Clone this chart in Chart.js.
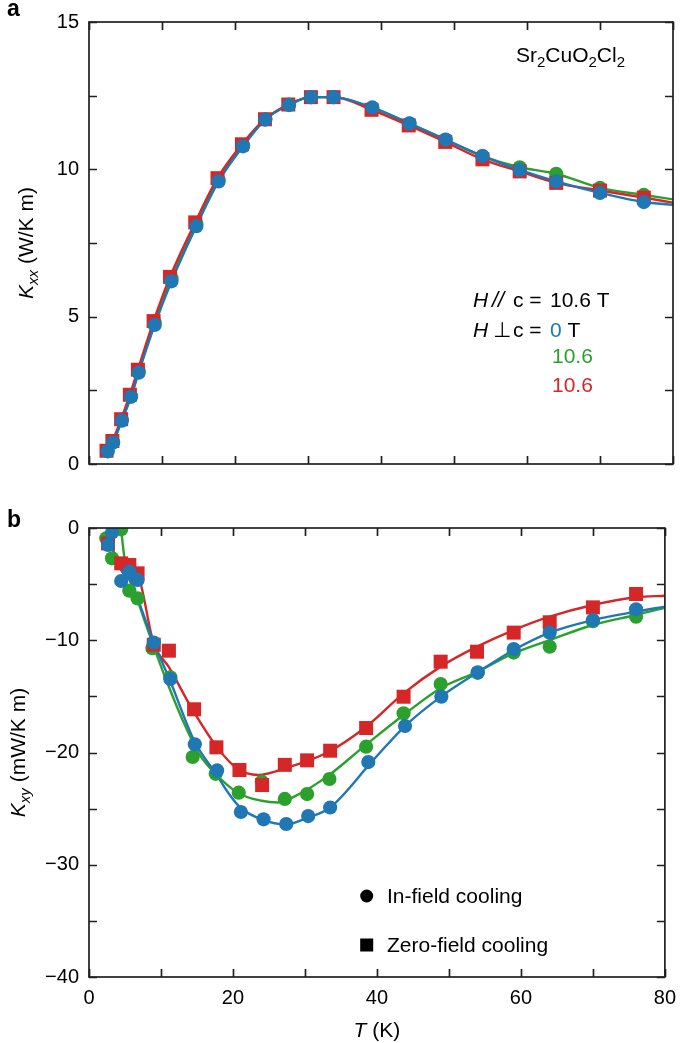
<!DOCTYPE html>
<html>
<head>
<meta charset="utf-8">
<script src="https://cdn.jsdelivr.net/npm/chart.js@4.4.1/dist/chart.umd.min.js"></script>
<style>
  body { margin: 0; background: #fff; }
  #wrap { position: relative; width: 685px; height: 1043px; }
  canvas { position: absolute; left: 0; }
  #kxx { top: 0; }
  #kxy { top: 500px; }
</style>
</head>
<body>
<div id="wrap">
  <canvas id="kxx" width="685" height="500"></canvas>
  <canvas id="kxy" width="685" height="543"></canvas>
</div>
<script>
// ---- panel a: Kxx (W/K m) ----
const tA = [2.55, 3.3, 4.5, 5.75, 6.8, 9.0, 11.3, 14.7, 17.75, 21.1, 24.15, 27.4, 30.4, 33.5, 38.8, 43.9, 48.85, 53.9, 59.0, 64.0, 70.0, 76.0];
const tARed = [2.4, 3.2, 4.4, 5.6, 6.7, 8.85, 11.1, 14.55, 17.6, 20.95, 24.1, 27.3, 30.4, 33.5, 38.7, 43.8, 48.8, 53.9, 59.0, 64.0, 70.0, 76.0];
const kxxBlue = [0.43, 0.73, 1.47, 2.28, 3.1, 4.72, 6.2, 8.07, 9.59, 10.78, 11.69, 12.18, 12.45, 12.45, 12.10, 11.56, 11.01, 10.45, 9.98, 9.59, 9.20, 8.89];
const kxxGreen = [0.44, 0.75, 1.5, 2.3, 3.15, 4.8, 6.3, 8.15, 9.65, 10.82, 11.7, 12.2, 12.45, 12.45, 12.08, 11.55, 11.0, 10.45, 10.07, 9.85, 9.37, 9.13];
const kxxRed = [0.45, 0.78, 1.52, 2.35, 3.2, 4.85, 6.35, 8.2, 9.7, 10.85, 11.7, 12.2, 12.45, 12.45, 12.02, 11.49, 10.93, 10.34, 9.93, 9.54, 9.28, 9.04];
// where the fitted curves leave the frame at T = 80 K
const kxxEnd = { blue: 8.8, green: 8.98, red: 8.87 };

// ---- panel b: Kxy (mW/K m), markers ----
const tBlue = [2.64, 3.2, 4.47, 5.6, 6.75, 9.0, 11.3, 14.7, 17.8, 21.1, 24.25, 27.4, 30.45, 33.5, 38.8, 43.9, 48.95, 54.0, 59.0, 64.0, 70.0, 76.0];
const kxyBlue = [-1.51, -0.41, -4.72, -3.89, -4.63, -10.2, -13.45, -19.27, -21.6, -25.3, -25.95, -26.37, -25.66, -24.9, -20.85, -17.64, -15.03, -12.86, -10.78, -9.32, -8.2, -7.24];
const tGreen = [2.4, 3.2, 4.47, 5.6, 6.75, 8.8, 11.3, 14.4, 17.6, 20.8, 24.0, 27.2, 30.3, 33.4, 38.5, 43.7, 48.85, 54.0, 59.0, 64.0, 70.0, 76.0];
const kxyGreen = [-0.92, -2.7, -0.12, -5.58, -6.27, -10.7, -13.3, -20.4, -21.9, -23.58, -22.6, -24.14, -23.7, -22.36, -19.48, -16.51, -13.9, -12.9, -11.1, -10.57, -8.3, -7.9];
const tRed = [2.64, 4.47, 5.6, 6.75, 9.0, 11.1, 14.6, 17.7, 20.9, 24.05, 27.2, 30.3, 33.5, 38.5, 43.7, 48.85, 53.9, 59.0, 64.0, 70.0, 76.0];
const kxyRed = [-1.37, -3.15, -3.3, -4.04, -10.4, -10.93, -16.15, -19.54, -21.56, -22.9, -21.1, -20.7, -19.84, -17.82, -15.03, -11.91, -11.02, -9.32, -8.4, -7.07, -5.88];

// ---- panel b: fitted curves ----
const fitTBlue = [2.5, 4.5, 5.6, 9.0, 11.2, 14.65, 17.75, 19.35, 21.0, 24.15, 27.3, 30.4, 33.5, 39.45, 43.9, 48.95, 54, 59, 64, 70, 76, 80];
const fitBlue = [-0.5, -3.8, -4.6, -10.2, -13.5, -19.0, -22.0, -23.6, -24.9, -26.0, -26.4, -25.8, -24.9, -20.7, -17.64, -15.0, -12.86, -10.87, -9.32, -8.2, -7.45, -7.0];
const fitTGreen = [4.45, 4.9, 6.75, 8.85, 10.7, 13.0, 15.25, 17.5, 20.7, 24.0, 26.2, 28.9, 33.05, 38.5, 43.7, 48.85, 54, 59, 64, 70, 76, 80];
const fitGreen = [0, -2.55, -6.4, -10.3, -13.5, -17.1, -20.07, -21.85, -23.6, -24.3, -24.45, -23.8, -22.15, -19.3, -16.66, -14.28, -12.8, -11.16, -9.98, -8.64, -7.75, -7.1];
const fitTRed = [2.0, 4.5, 6.75, 9.0, 11.1, 14.3, 17.75, 20.7, 23.5, 27.3, 33.1, 38.5, 43.7, 48.85, 53.9, 59, 64, 70, 76, 80];
const fitRed = [-0.5, -3.1, -4.1, -10.3, -12.4, -16.1, -19.5, -21.5, -22.0, -21.4, -20.0, -17.7, -14.73, -12.35, -10.57, -9.09, -7.9, -6.86, -6.17, -6.03];

const BLUE = '#1f77b4', GREEN = '#2ca02c', RED = '#d62728', INK = '#231f20';
const FONT = "'Liberation Sans', Arial, 'DejaVu Sans', sans-serif";
const f = (px, st) => (st ? st + ' ' : '') + px + 'px ' + FONT;

const pts = (xs, ys) => xs.map((x, i) => ({ x, y: ys[i] }));

function markers(xs, ys, color, square, order) {
  const r = square ? 9.9 : 7.1;
  return {
    data: pts(xs, ys), showLine: false, order, clip: 0,
    pointStyle: square ? 'rect' : 'circle',
    pointRadius: r, pointHoverRadius: r,
    pointBackgroundColor: color, pointBorderWidth: 0, borderColor: color
  };
}
function curve(data, color, order) {
  return {
    data, showLine: true, order, clip: 0, pointRadius: 0, pointHoverRadius: 0,
    borderColor: color, borderWidth: 2.4, cubicInterpolationMode: 'monotone', fill: false
  };
}

// draws a row of text pieces: [text, font, colour, dy]
function runs(ctx, x, y, list) {
  for (const [t, font, color, dy] of list) {
    ctx.font = font; ctx.fillStyle = color || '#000';
    ctx.fillText(t, x, y + (dy || 0));
    x += ctx.measureText(t).width;
  }
  return x;
}
function width(ctx, list) {
  let w = 0;
  for (const [t, font] of list) { ctx.font = font; w += ctx.measureText(t).width; }
  return w;
}
function yTitle(ctx, bx, cy, sub, unit) {
  const list = [['K', f(21, 'italic')], [sub, f(15, 'italic'), '#000', 5], [' ' + unit, f(21)]];
  ctx.save();
  ctx.translate(bx, cy);
  ctx.rotate(-Math.PI / 2);
  runs(ctx, -width(ctx, list) / 2, 0, list);
  ctx.restore();
}

// frame round the plot with inward ticks on all four sides
const frameTicks = {
  id: 'frameTicks',
  afterDraw(chart, args, opts) {
    const { ctx, chartArea: a, scales: { x, y } } = chart;
    const len = 8;
    ctx.save();
    ctx.strokeStyle = INK; ctx.lineWidth = 1.7;
    ctx.strokeRect(a.left, a.top, a.right - a.left, a.bottom - a.top);
    ctx.beginPath();
    for (let v = x.min; v <= x.max + 1e-9; v += opts.xStep) {
      const px = Math.round(x.getPixelForValue(v)) + 0.5;
      ctx.moveTo(px, a.bottom); ctx.lineTo(px, a.bottom - len);
      ctx.moveTo(px, a.top); ctx.lineTo(px, a.top + len);
    }
    for (let v = y.min; v <= y.max + 1e-9; v += opts.yStep) {
      const py = Math.round(y.getPixelForValue(v)) + 0.5;
      ctx.moveTo(a.left, py); ctx.lineTo(a.left + len, py);
      ctx.moveTo(a.right, py); ctx.lineTo(a.right - len, py);
    }
    ctx.stroke();
    ctx.restore();
  }
};

const kxxText = {
  id: 'kxxText',
  afterDraw(chart) {
    const { ctx, chartArea: a } = chart;
    ctx.save();
    ctx.textBaseline = 'alphabetic';
    ctx.font = f(23, 'bold'); ctx.fillStyle = '#000';
    ctx.fillText('a', 7, 16);
    yTitle(ctx, 33, (a.top + a.bottom) / 2, 'xx', '(W/K m)');
    const sub = f(15);
    runs(ctx, 516, 62, [['Sr', f(21)], ['2', sub, '#000', 5], ['CuO', f(21)], ['2', sub, '#000', 5], ['Cl', f(21)], ['2', sub, '#000', 5]]);
    runs(ctx, 473, 306.5, [['H', f(21, 'italic')]]);
    runs(ctx, 492, 306.5, [['//', f(22, 'italic')]]);
    runs(ctx, 513, 306.5, [['c =', f(21)]]);
    runs(ctx, 550, 306.5, [['10.6 T', f(21)]]);
    runs(ctx, 473, 336.5, [['H', f(21, 'italic')]]);
    runs(ctx, 493, 336.5, [['\u22A5', f(21)]]);
    runs(ctx, 513, 336.5, [['c =', f(21)]]);
    runs(ctx, 550, 336.5, [['0', f(21), BLUE], [' T', f(21)]]);
    runs(ctx, 552, 362.5, [['10.6', f(21), GREEN]]);
    runs(ctx, 552, 391.5, [['10.6', f(21), RED]]);
    ctx.restore();
  }
};

const kxyText = {
  id: 'kxyText',
  afterDraw(chart) {
    const { ctx, chartArea: a } = chart;
    ctx.save();
    ctx.textBaseline = 'alphabetic';
    ctx.font = f(23, 'bold'); ctx.fillStyle = '#000';
    ctx.fillText('b', 7, 27);
    yTitle(ctx, 25, (a.top + a.bottom) / 2, 'xy', '(mW/K m)');
    const xt = [['T', f(21, 'italic')], [' (K)', f(21)]];
    runs(ctx, (a.left + a.right) / 2 - width(ctx, xt) / 2, 536.5, xt);
    // symbol key
    ctx.fillStyle = '#000';
    ctx.beginPath(); ctx.arc(366.7, 396, 6.5, 0, Math.PI * 2); ctx.fill();
    ctx.fillRect(360.2, 438.5, 13, 13);
    runs(ctx, 387, 403, [['In-field cooling', f(21)]]);
    runs(ctx, 387, 452, [['Zero-field cooling', f(21)]]);
    ctx.restore();
  }
};

const tickFont = { family: FONT, size: 20 };
const minus = v => String(v).replace('-', '\u2212');

function baseOptions(yMin, yMax, yStep, yLabelEvery, padding, xLabels) {
  return {
    responsive: false, animation: false, devicePixelRatio: 1,
    layout: { padding },
    plugins: { legend: { display: false }, tooltip: { enabled: false },
               frameTicks: { xStep: 10, yStep } },
    scales: {
      x: {
        type: 'linear', min: 0, max: 80,
        grid: { display: false, drawTicks: false }, border: { display: false },
        ticks: xLabels
          ? { stepSize: 10, font: tickFont, color: '#000', padding: 9, maxRotation: 0,
              callback: v => (v % 20 === 0 ? v : '') }
          : { display: false },
        afterFit: s => { s.height = xLabels ? 66 : 0; }
      },
      y: {
        type: 'linear', min: yMin, max: yMax,
        grid: { display: false, drawTicks: false }, border: { display: false },
        ticks: { stepSize: yStep, font: tickFont, color: '#000', padding: 10,
                 callback: v => (v % yLabelEvery === 0 ? minus(v) : '') },
        afterFit: s => { s.width = 89; }
      }
    }
  };
}

const endAt80 = (xs, ys, yEnd) => pts(xs, ys).concat([{ x: 80, y: yEnd }]);

new Chart(document.getElementById('kxx'), {
  type: 'scatter',
  data: {
    datasets: [
      markers(tA, kxxBlue, BLUE, false, 0),
      markers(tARed, kxxRed, RED, true, 1),
      markers(tA, kxxGreen, GREEN, false, 2),
      curve(endAt80(tA, kxxBlue, kxxEnd.blue), BLUE, 3),
      curve(endAt80(tARed, kxxRed, kxxEnd.red), RED, 4),
      curve(endAt80(tA, kxxGreen, kxxEnd.green), GREEN, 5)
    ]
  },
  options: baseOptions(0, 15, 2.5, 5, { left: 0, right: 12, top: 15, bottom: 36 }, false),
  plugins: [frameTicks, kxxText]
});

new Chart(document.getElementById('kxy'), {
  type: 'scatter',
  data: {
    datasets: [
      markers(tBlue, kxyBlue, BLUE, false, 0),
      markers(tRed, kxyRed, RED, true, 1),
      markers(tGreen, kxyGreen, GREEN, false, 2),
      curve(pts(fitTBlue, fitBlue), BLUE, 3),
      curve(pts(fitTRed, fitRed), RED, 4),
      curve(pts(fitTGreen, fitGreen), GREEN, 5)
    ]
  },
  options: baseOptions(-40, 0, 5, 10, { left: 0, right: 12, top: 28, bottom: 0 }, true),
  plugins: [frameTicks, kxyText]
});
</script>
</body>
</html>
